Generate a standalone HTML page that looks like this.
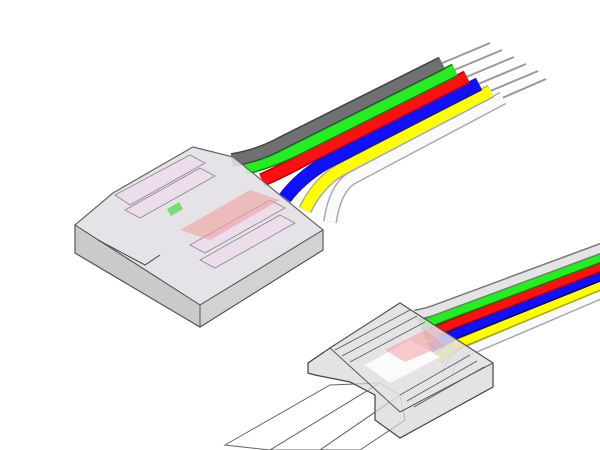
<!DOCTYPE html>
<html><head><style>html,body{margin:0;padding:0;background:#fff}svg{display:block}</style></head>
<body>
<svg width="600" height="450" viewBox="0 0 600 450" xmlns="http://www.w3.org/2000/svg">
<rect width="600" height="450" fill="#fff"/>
<!-- top wire tips -->
<g stroke="#999" stroke-width="2" fill="none">
<line x1="440" y1="64" x2="490" y2="43"/>
<line x1="452" y1="71" x2="502" y2="50"/>
<line x1="464" y1="78" x2="514" y2="57"/>
<line x1="476" y1="85" x2="526" y2="64"/>
<line x1="488" y1="92" x2="538" y2="71"/>
<line x1="500" y1="99" x2="546" y2="79"/>
</g>
<!-- top wires -->
<g fill="none" stroke-linecap="butt">
<path d="M503,98 L352,178 Q335,188 330,222" stroke="#aaa" stroke-width="14"/>
<path d="M503,98 L352,178 Q335,188 330,222" stroke="#fafafa" stroke-width="11"/>
<path d="M491,91 L340,170 Q318,183 305,210" stroke="#aaa" stroke-width="14"/>
<path d="M491,91 L340,170 Q318,183 305,210" stroke="#ffff00" stroke-width="11"/>
<path d="M479,84 L325,163 Q300,178 285,198" stroke="#11c" stroke-width="14"/>
<path d="M479,84 L325,163 Q300,178 285,198" stroke="#1010ff" stroke-width="11"/>
<path d="M467,77 L310,156 Q285,170 262,180" stroke="#b00" stroke-width="14"/>
<path d="M467,77 L310,156 Q285,170 262,180" stroke="#ff1010" stroke-width="11"/>
<path d="M455,70 L295,150 Q270,162 245,168" stroke="#080" stroke-width="14"/>
<path d="M455,70 L295,150 Q270,162 245,168" stroke="#22ee22" stroke-width="11"/>
<path d="M442,63 L282,143 Q258,156 232,160" stroke="#444" stroke-width="14"/>
<path d="M442,63 L282,143 Q258,156 232,160" stroke="#707070" stroke-width="11"/>
</g>
<!-- top connector -->
<polygon points="193,147 233,157 323,230 323,250 200,327 75,253 75,225 113,193" fill="#d8d6da" fill-opacity="0.75" stroke="#555" stroke-width="1.2"/>
<polygon points="193,147 233,157 323,230 200,305 75,225 113,193" fill="#e8e4ea" fill-opacity="0.6" stroke="#666" stroke-width="1"/>
<polygon points="75,225 200,305 200,327 75,253" fill="#bbb" fill-opacity="0.6" stroke="#555"/>
<polygon points="200,305 323,230 323,250 200,327" fill="#c8c8c8" fill-opacity="0.6" stroke="#555"/>
<g fill="#ecdcec" stroke="#888" stroke-width="0.8">
<polygon points="115,195 190,155 205,163 130,205"/>
<polygon points="125,210 200,168 215,176 140,218"/>
<polygon points="190,245 270,200 285,208 205,253"/>
<polygon points="200,260 280,215 295,223 215,268"/>
</g>
<polygon points="180,230 250,190 280,200 210,240" fill="#f0a0a0" fill-opacity="0.6"/>
<rect x="168" y="205" width="14" height="8" fill="#7d7" transform="rotate(-30 175 209)"/>
<path d="M98,240 L145,265 L160,255" stroke="#444" fill="none"/>
<!-- bottom strip -->
<g fill="#fff" stroke="#666" stroke-width="1">
<polygon points="225,445 330,385 380,383 270,450"/>
<polygon points="270,450 380,383 400,395 320,450"/>
<polygon points="320,450 400,395 405,420 360,450"/>
</g>
<!-- bottom wires -->
<g fill="none">
<path d="M610,290 L465,352 Q450,360 447,375" stroke="#aaa" stroke-width="11"/>
<path d="M610,290 L465,352 Q450,360 447,375" stroke="#fafafa" stroke-width="8"/>
<path d="M610,281 L460,343 Q445,350 438,360" stroke="#aa0" stroke-width="11"/>
<path d="M610,281 L460,343 Q445,350 438,360" stroke="#ffff00" stroke-width="8"/>
<path d="M610,272 L455,334 Q440,342 430,348" stroke="#00a" stroke-width="11"/>
<path d="M610,272 L455,334 Q440,342 430,348" stroke="#1010ff" stroke-width="8"/>
<path d="M610,263 L450,325 Q435,332 425,336" stroke="#a00" stroke-width="11"/>
<path d="M610,263 L450,325 Q435,332 425,336" stroke="#ff1010" stroke-width="8"/>
<path d="M610,254 L445,316 Q430,322 420,325" stroke="#080" stroke-width="11"/>
<path d="M610,254 L445,316 Q430,322 420,325" stroke="#22ee22" stroke-width="8"/>
<path d="M610,245 L440,308 Q428,313 415,315" stroke="#777" stroke-width="11"/>
<path d="M610,245 L440,308 Q428,313 415,315" stroke="#e4e4e4" stroke-width="8"/>
</g>
<!-- bottom connector -->
<polygon points="400,303 493,363 493,387 400,438 375,420 375,395 350,382 315,375 308,373 308,363 330,348" fill="#d8d6da" fill-opacity="0.7" stroke="#444" stroke-width="1.2"/>
<polygon points="400,303 493,363 400,412 330,348" fill="#e8e4ea" fill-opacity="0.55" stroke="#555"/>
<polygon points="365,365 410,340 440,357 390,383" fill="#fff" fill-opacity="0.85"/>
<polygon points="385,350 425,330 445,345 405,362" fill="#f0a0a0" fill-opacity="0.55"/>
<g stroke="#555" stroke-width="0.8">
<line x1="335" y1="350" x2="410" y2="310"/><line x1="342" y1="356" x2="417" y2="316"/>
<line x1="350" y1="362" x2="425" y2="322"/><line x1="400" y1="395" x2="470" y2="355"/>
<line x1="407" y1="401" x2="477" y2="361"/><line x1="414" y1="407" x2="484" y2="367"/>
</g>
</svg>
</body></html>
